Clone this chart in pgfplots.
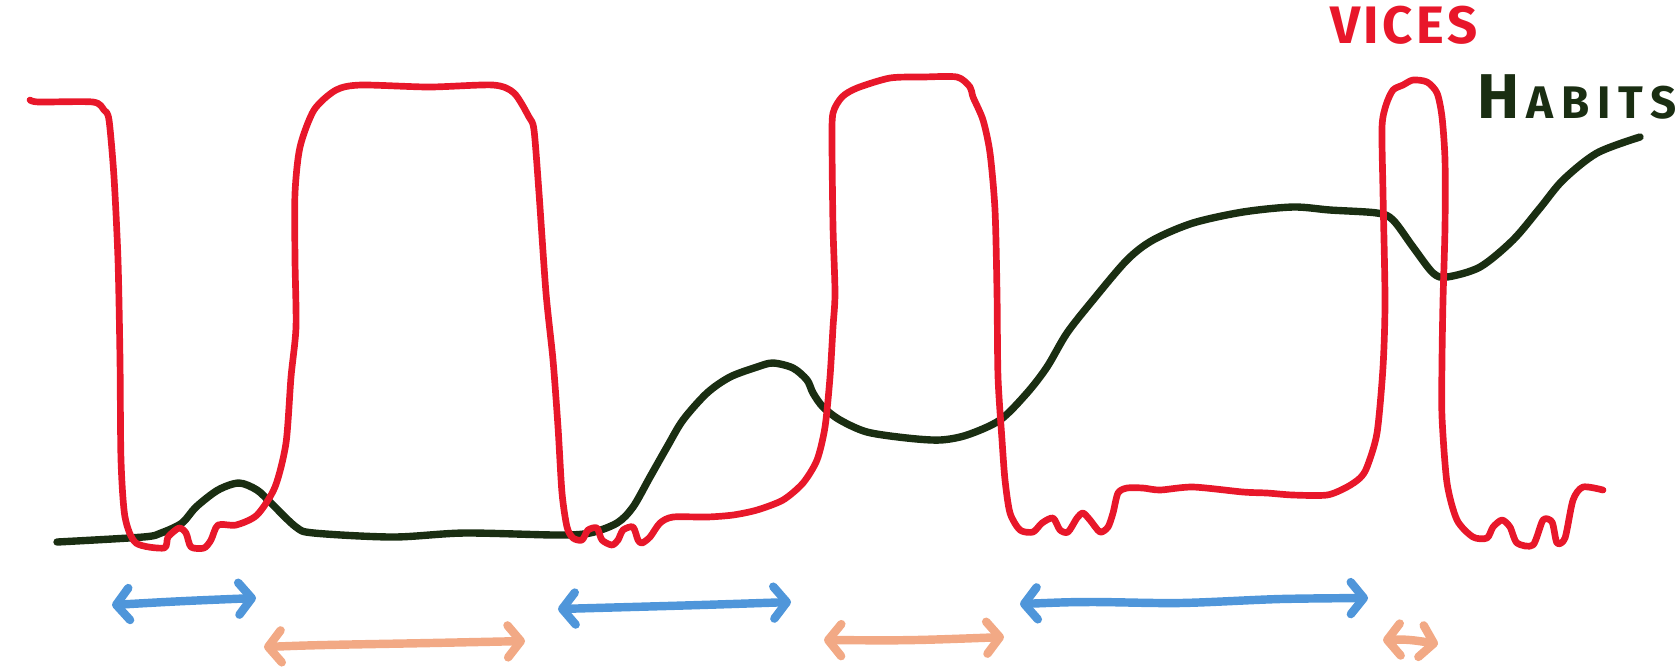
\documentclass[border=0pt]{standalone}
\usepackage{pgfplots}
\pgfplotsset{compat=1.18}
\usetikzlibrary{arrows.meta}
\usepackage{fontspec}
\setmainfont{Fira Sans}
\definecolor{vred}{HTML}{E8172A}
\definecolor{hgreen}{HTML}{1A2E12}
\definecolor{ablue}{HTML}{4F96DA}
\definecolor{aorange}{HTML}{F2A985}
\begin{document}
\begin{tikzpicture}
\begin{axis}[
  scale only axis, width=16.8cm, height=6.68cm,
  xmin=0, xmax=1680, ymin=0, ymax=668, y dir=reverse,
  hide axis, clip=false,
  every axis plot/.append style={line cap=round, line join=round},
]
% habits (dark green)
\addplot[hgreen, line width=2.1pt, smooth, tension=0.5] coordinates {
(57,542) (143,537) (161,533) (182,523) (196,507) (218,490) (239,483) (257,490)
(271,503) (296,527) (314,533) (393,537) (464,533) (557,535) (590,533) (617,523)
(633,507) (650,477) (667,447) (683,420) (707,393) (730,377) (757,367) (773,363)
(793,368) (807,380) (813,393) (823,407) (840,420) (867,432) (907,438) (940,440)
(967,435) (1000,420) (1027,393) (1047,367) (1067,333) (1093,300) (1127,260)
(1153,240) (1193,223) (1243,212) (1293,207) (1330,210) (1377,213) (1393,220)
(1413,247) (1433,273) (1447,277) (1480,267) (1513,240) (1540,208) (1563,180)
(1597,153) (1640,137)};
% vices (red)
\addplot[vred, line width=1.9pt, smooth, tension=0.45] coordinates {
(30,100) (39,102) (93,102) (104,110) (109,120) (114,177) (118,260) (120,360)
(121,460) (125,517) (136,543) (164,548) (168,537) (179,528) (186,533) (191,547)
(204,548) (211,540) (218,525) (236,525) (257,515) (275,487) (286,443) (291,377)
(296,327) (295,260) (295,193) (300,147) (314,110) (336,90) (361,85) (429,87)
(493,85) (514,93) (529,117) (534,130) (539,193) (546,293) (553,360) (558,427)
(562,493) (567,527) (573,538) (582,540) (588,530) (597,528) (602,540) (612,545)
(618,540) (623,530) (633,527) (638,540) (642,543) (650,537) (660,523) (673,517)
(707,517) (733,515) (757,510) (783,500) (803,483) (817,460) (825,427) (830,377)
(833,327) (835,293) (833,227) (832,143) (833,113) (842,97) (857,88) (890,78)
(923,77) (957,77) (970,87) (973,97) (983,120) (990,153) (995,210) (997,293)
(998,377) (1002,440) (1005,480) (1010,513) (1020,530) (1033,532) (1042,523)
(1053,518) (1060,530) (1068,532) (1077,518) (1083,513) (1090,520) (1100,532)
(1108,527) (1113,513) (1118,493) (1127,488) (1143,488) (1160,490) (1193,487)
(1243,492) (1267,493) (1293,495) (1327,495) (1347,487) (1360,478) (1367,467)
(1377,433) (1383,367) (1385,300) (1383,193) (1382,127) (1386,105)
(1393,90) (1403,85) (1413,80) (1427,82) (1437,93) (1442,117) (1445,160)
(1445,227) (1443,300) (1442,360) (1442,417) (1447,483) (1457,520) (1473,537)
(1487,538) (1493,527) (1502,520) (1510,527) (1517,543) (1533,545)
(1543,520) (1552,522) (1557,543) (1565,538) (1573,500)
(1583,487) (1603,490)};
% arrows
\addplot[ablue, line width=2.4pt, smooth, {Straight Barb[length=1.3mm,width=3.2mm,round]}-{Straight Barb[length=1.3mm,width=3.2mm,round]}]
 coordinates {(112,605) (185,601) (256,598)};
\addplot[aorange, line width=2.4pt, smooth, {Straight Barb[length=1.3mm,width=3.2mm,round]}-{Straight Barb[length=1.3mm,width=3.2mm,round]}]
 coordinates {(264,647) (325,645) (430,643) (525,641)};
\addplot[ablue, line width=2.4pt, smooth, {Straight Barb[length=1.3mm,width=3.2mm,round]}-{Straight Barb[length=1.3mm,width=3.2mm,round]}]
 coordinates {(558,609) (700,605) (791,602)};
\addplot[aorange, line width=2.4pt, smooth, {Straight Barb[length=1.3mm,width=3.2mm,round]}-{Straight Barb[length=1.3mm,width=3.2mm,round]}]
 coordinates {(824,640) (915,640) (1004,637)};
\addplot[ablue, line width=2.4pt, smooth, {Straight Barb[length=1.3mm,width=3.2mm,round]}-{Straight Barb[length=1.3mm,width=3.2mm,round]}]
 coordinates {(1020,604) (1090,602) (1180,603) (1280,599) (1368,598)};
\addplot[aorange, line width=2.4pt, smooth, {Straight Barb[length=1.3mm,width=3.2mm,round]}-{Straight Barb[length=1.3mm,width=3.2mm,round]}]
 coordinates {(1383,640) (1410,640) (1438,644)};
% labels
\node[text=vred, font=\bfseries\fontsize{15}{15}\selectfont, anchor=center, inner sep=0pt]
  at (axis cs:1404,25) {V\hspace{1pt}I\hspace{1pt}C\hspace{1pt}E\hspace{1pt}S};
\node[text=hgreen, font=\bfseries\fontsize{13}{13}\selectfont, anchor=base, inner sep=0pt]
  at (axis cs:1577,118) {{\fontsize{18}{18}\selectfont H}\,A\,B\,I\,T\,S};
\end{axis}
\pgfresetboundingbox
\path (current axis.south west) rectangle (current axis.north east);
\end{tikzpicture}
\end{document}
